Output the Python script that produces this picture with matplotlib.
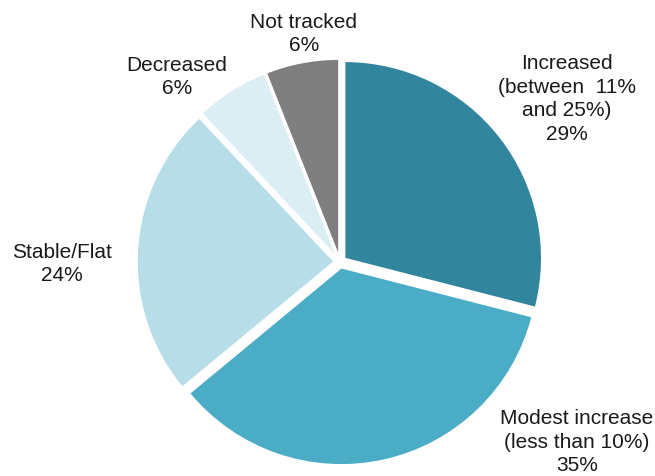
import matplotlib.pyplot as plt

plt.rcParams['font.family'] = ['Liberation Sans', 'DejaVu Sans']

# 数据
categories = ["Increased\n(between  11%\nand 25%)", "Modest increase\n(less than 10%)",
              "Stable/Flat", "Decreased", "Not tracked"]
shares = [29, 35, 24, 6, 6]
colors = ["#31859C", "#4BACC6", "#B7DEE8", "#DAEEF3", "#7F7F7F"]

# 标签位置（数据坐标，半径=1）
label_pos = [(1.152, 0.832), (1.203, -0.909), (-1.411, -0.005), (-0.827, 0.944), (-0.183, 1.162)]

W, H = 655, 477
cx, cy, R = 340, 214, 197   # 饼图中心和半径（像素）
lim = 1.2

fig = plt.figure(figsize=(W / 100, H / 100), dpi=100)
side = 2 * lim * R
ax = fig.add_axes([(cx - side / 2) / W, (cy - side / 2) / H, side / W, side / H])

wedges, _ = ax.pie(shares, colors=colors, startangle=90, counterclock=False,
                   explode=[0.03] * len(shares), radius=1,
                   wedgeprops=dict(edgecolor="white", linewidth=1))
ax.set_xlim(-lim, lim)
ax.set_ylim(-lim, lim)
ax.set_aspect("equal")
ax.axis("off")

for name, val, (x, y) in zip(categories, shares, label_pos):
    ax.text(x, y, "{}\n{}%".format(name, val), ha="center", va="center",
            fontsize=15, color="#1a1a1a", linespacing=1.3)

fig.savefig("out.png", dpi=100)
